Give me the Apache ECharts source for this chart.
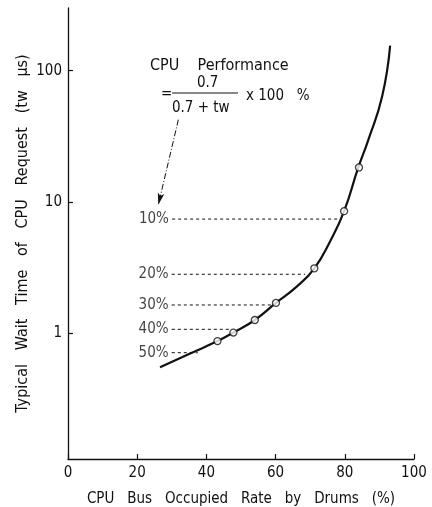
<!DOCTYPE html>
<html>
<head>
<meta charset="utf-8">
<script src="https://cdn.jsdelivr.net/npm/echarts@6/dist/echarts.min.js"></script>
<style>
html,body{margin:0;padding:0;background:#fff;}
#main{width:432px;height:507px;}
</style>
</head>
<body>
<div id="main"></div>
<script>
const xTicks = [0, 20, 40, 60, 80, 100];
const yTicks = [1, 10, 100];
const curveX = [26.6, 35.3, 43.2, 47.8, 54.0, 60.1, 66.1, 71.2, 75.7, 79.8, 83.9, 86.8, 90.8, 93.1];
const curveY = [0.55, 0.70, 0.87, 1.01, 1.26, 1.70, 2.26, 3.12, 4.98, 8.5, 18.3, 29.7, 63.7, 155];
const pointX = [43.2, 47.8, 54.0, 60.1, 71.2, 79.8, 84.1];
const pointY = [0.87, 1.01, 1.26, 1.70, 3.12, 8.5, 18.3];
const levelLabels = ['10%', '20%', '30%', '40%', '50%'];
const levelY = [7.4, 2.81, 1.64, 1.07, 0.71];
const levelXStart = [30.1, 30.0, 30.0, 30.0, 30.0];
const levelXEnd = [79.2, 68.5, 59.3, 47.3, 37.5];
const arrowFrom = [31.9, 42.3];
const arrowTo = [26.1, 9.5];
const xTitle = 'CPU   Bus   Occupied   Rate   by   Drums   (%)';
const yTitle = 'Typical   Wait   Time   of   CPU   Request   (tw   μs)';

const FONT = '"DejaVu Sans Condensed", "Liberation Sans Narrow", "DejaVu Sans", sans-serif';
const ink = '#111';

const chart = echarts.init(document.getElementById('main'), null, {renderer: 'canvas'});

const series = [];
series.push({
  type: 'line',
  data: curveX.map((x, i) => [x, curveY[i]]),
  smooth: 0.5,
  showSymbol: false,
  symbol: 'none',
  lineStyle: {color: ink, width: 2.2},
  silent: true,
  z: 3,
  markLine: {
    silent: true,
    symbol: ['none', 'arrow'],
    symbolSize: [5, 12],
    lineStyle: {color: ink, width: 1, type: [6, 2, 1, 2]},
    label: {show: false},
    data: [[{coord: arrowFrom}, {coord: arrowTo}]]
  }
});
levelLabels.forEach((lab, i) => {
  series.push({
    type: 'line',
    data: [[levelXStart[i], levelY[i]], [levelXEnd[i], levelY[i]]],
    symbol: 'none',
    lineStyle: {color: ink, width: 1, type: [3, 3]},
    silent: true,
    z: 2
  });
});
series.push({
  type: 'scatter',
  data: levelLabels.map((lab, i) => ({name: lab, value: [levelXStart[i], levelY[i]]})),
  symbol: 'circle',
  symbolSize: 0.5,
  itemStyle: {color: ink},
  label: {show: true, position: 'left', distance: 3, formatter: '{b}', color: ink, fontSize: 15, fontFamily: FONT},
  silent: true,
  z: 4
});
series.push({
  type: 'scatter',
  data: pointX.map((x, i) => [x, pointY[i]]),
  symbol: 'circle',
  symbolSize: 7,
  itemStyle: {color: '#fff', borderColor: ink, borderWidth: 1.3},
  silent: true,
  z: 5
});

chart.setOption({
  animation: false,
  backgroundColor: '#fff',
  grid: {left: 68, right: 18, top: 8, bottom: 48, containLabel: false, outerBoundsMode: 'none'},
  xAxis: {
    type: 'value', min: 0, max: 100, interval: 20,
    axisLine: {show: true, onZero: false, lineStyle: {color: ink, width: 1.3}},
    axisTick: {show: true, inside: true, length: 5, lineStyle: {color: ink, width: 1.2}, customValues: xTicks},
    axisLabel: {color: ink, fontSize: 15, fontFamily: FONT, margin: 7, customValues: xTicks},
    splitLine: {show: false},
    name: xTitle, nameLocation: 'middle', nameGap: 33, nameMoveOverlap: false,
    nameTextStyle: {color: ink, fontSize: 15, fontFamily: FONT}
  },
  yAxis: {
    type: 'log', min: 0.11, max: 300, logBase: 10,
    axisLine: {show: true, lineStyle: {color: ink, width: 1.3}},
    axisTick: {show: true, inside: true, length: 5, lineStyle: {color: ink, width: 1.2}, customValues: yTicks},
    axisLabel: {color: ink, fontSize: 15, fontFamily: FONT, margin: 6, customValues: yTicks},
    splitLine: {show: false},
    minorTick: {show: false},
    name: yTitle, nameLocation: 'middle', nameGap: 37, nameRotate: 90, nameMoveOverlap: false,
    nameTextStyle: {color: ink, fontSize: 16, fontFamily: FONT}
  },
  graphic: [
    {type: 'text', left: 150, top: 58, style: {text: 'CPU    Performance', fill: ink, font: '16px ' + FONT}},
    {type: 'text', left: 161, top: 87, style: {text: '=', fill: ink, font: '15px ' + FONT}},
    {type: 'text', left: 197, top: 76, style: {text: '0.7', fill: ink, font: '15px ' + FONT}},
    {type: 'line', shape: {x1: 172, y1: 93, x2: 238, y2: 93}, style: {stroke: ink, lineWidth: 1}},
    {type: 'text', left: 172, top: 101, style: {text: '0.7 + tw', fill: ink, font: '15px ' + FONT}},
    {type: 'text', left: 246, top: 89, style: {text: 'x 100   %', fill: ink, font: '15px ' + FONT}}
  ],
  series: series
});
</script>
</body>
</html>
